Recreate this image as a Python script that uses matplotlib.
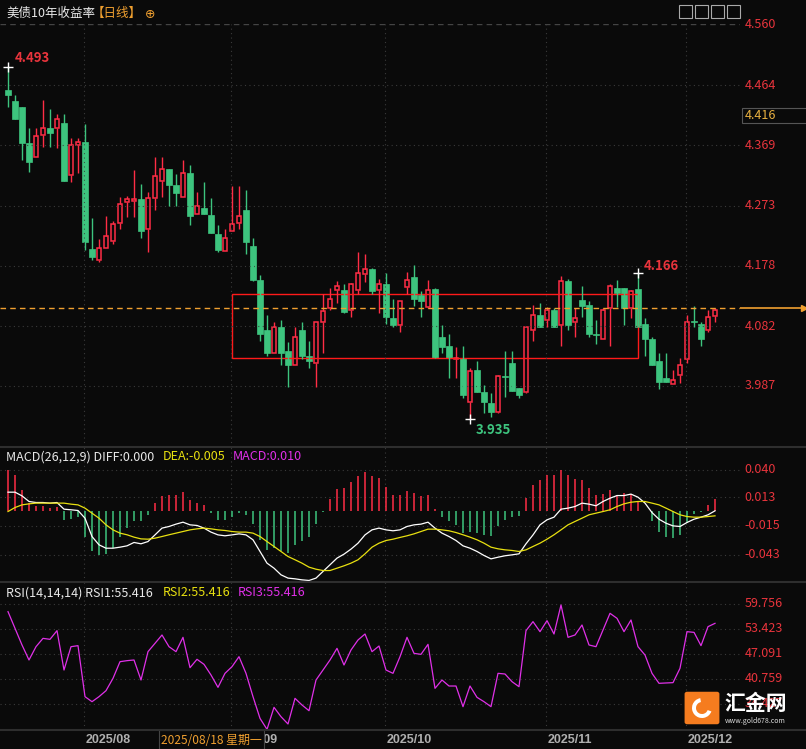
import matplotlib
matplotlib.use("Agg")
import matplotlib.pyplot as plt
from matplotlib.patches import Rectangle, FancyBboxPatch, Wedge
import numpy as np
import pandas as pd

plt.rcParams['font.family'] = ['Noto Sans CJK SC', 'DejaVu Sans']

# daily candles, 2025-07-17 .. 2025-12-05
dates = pd.bdate_range("2025-07-17", periods=102)

opens = [4.456, 4.440, 4.429, 4.372, 4.351, 4.385, 4.396, 4.396, 4.404, 4.321,
         4.370, 4.374, 4.204, 4.187, 4.206, 4.217, 4.246, 4.279, 4.280, 4.284,
         4.236, 4.285, 4.313, 4.332, 4.306, 4.287, 4.325, 4.260, 4.269, 4.258,
         4.228, 4.201, 4.233, 4.246, 4.266, 4.209, 4.155, 4.076, 4.040, 4.080,
         4.043, 4.020, 4.075, 4.034, 4.024, 4.088, 4.110, 4.140, 4.140, 4.107,
         4.140, 4.165, 4.173, 4.140, 4.148, 4.094, 4.084, 4.144, 4.160, 4.132,
         4.113, 4.141, 4.064, 4.050, 4.029, 4.031, 3.961, 4.013, 3.977, 3.960,
         3.945, 4.003, 4.023, 3.983, 3.977, 4.076, 4.100, 4.091, 4.108, 4.084,
         4.154, 4.089, 4.124, 4.116, 4.069, 4.061, 4.110, 4.143, 4.143, 4.110,
         4.141, 4.086, 4.061, 4.026, 3.999, 3.990, 4.005, 4.029, 4.090, 4.086,
         4.075, 4.098]
highs = [4.493, 4.449, 4.430, 4.396, 4.396, 4.441, 4.426, 4.419, 4.419, 4.380,
         4.380, 4.402, 4.253, 4.220, 4.257, 4.249, 4.287, 4.288, 4.329, 4.307,
         4.295, 4.350, 4.350, 4.332, 4.323, 4.345, 4.337, 4.295, 4.310, 4.285,
         4.242, 4.236, 4.304, 4.304, 4.298, 4.222, 4.163, 4.099, 4.088, 4.091,
         4.056, 4.081, 4.088, 4.059, 4.088, 4.133, 4.143, 4.154, 4.149, 4.151,
         4.200, 4.197, 4.174, 4.157, 4.167, 4.125, 4.122, 4.168, 4.179, 4.138,
         4.155, 4.143, 4.083, 4.069, 4.048, 4.050, 4.016, 4.027, 3.988, 3.975,
         4.005, 4.043, 4.043, 3.983, 4.080, 4.116, 4.119, 4.113, 4.111, 4.162,
         4.157, 4.111, 4.146, 4.121, 4.091, 4.111, 4.149, 4.155, 4.143, 4.140,
         4.166, 4.095, 4.064, 4.040, 4.040, 4.013, 4.031, 4.100, 4.114, 4.088,
         4.108, 4.111]
lows = [4.429, 4.410, 4.345, 4.326, 4.351, 4.367, 4.366, 4.364, 4.313, 4.310,
        4.325, 4.203, 4.187, 4.184, 4.206, 4.212, 4.236, 4.255, 4.255, 4.222,
        4.200, 4.266, 4.287, 4.272, 4.272, 4.287, 4.242, 4.260, 4.260, 4.230,
        4.200, 4.201, 4.233, 4.236, 4.197, 4.154, 4.058, 4.035, 4.039, 4.020,
        3.986, 4.020, 4.029, 4.016, 3.985, 4.040, 4.108, 4.119, 4.103, 4.097,
        4.133, 4.152, 4.133, 4.103, 4.086, 4.081, 4.073, 4.133, 4.114, 4.097,
        4.110, 4.032, 4.039, 3.999, 3.999, 3.967, 3.935, 3.977, 3.944, 3.937,
        3.944, 3.969, 3.979, 3.967, 3.975, 4.058, 4.080, 4.081, 4.080, 4.051,
        4.076, 4.065, 4.097, 4.064, 4.054, 4.061, 4.051, 4.113, 4.083, 4.095,
        4.080, 4.035, 4.020, 3.982, 3.993, 3.990, 3.991, 4.024, 4.081, 4.050,
        4.073, 4.088]
closes = [4.449, 4.411, 4.372, 4.342, 4.383, 4.396, 4.388, 4.410, 4.313, 4.369,
          4.374, 4.215, 4.192, 4.206, 4.225, 4.244, 4.276, 4.284, 4.284, 4.233,
          4.285, 4.320, 4.331, 4.306, 4.293, 4.325, 4.257, 4.272, 4.260, 4.230,
          4.203, 4.222, 4.244, 4.257, 4.216, 4.155, 4.069, 4.040, 4.080, 4.040,
          4.020, 4.064, 4.034, 4.026, 4.088, 4.106, 4.125, 4.146, 4.105, 4.148,
          4.167, 4.173, 4.137, 4.148, 4.097, 4.083, 4.121, 4.155, 4.125, 4.121,
          4.140, 4.032, 4.048, 4.032, 4.032, 3.972, 4.010, 3.977, 3.961, 3.945,
          4.002, 4.001, 3.979, 3.972, 4.080, 4.100, 4.080, 4.108, 4.080, 4.154,
          4.084, 4.094, 4.114, 4.070, 4.068, 4.108, 4.146, 4.135, 4.110, 4.137,
          4.080, 4.062, 4.020, 3.993, 3.993, 3.996, 4.020, 4.088, 4.088, 4.061,
          4.097, 4.108]

diff = [0.0179, 0.0179, 0.0143, 0.0088, 0.0078, 0.0078, 0.0072, 0.0078, 0.0013, 0.0007,
        0.0000, -0.0075, -0.0254, -0.0335, -0.0368, -0.0368, -0.0358, -0.0345, -0.0312, -0.0325,
        -0.0303, -0.0238, -0.0172, -0.0156, -0.0133, -0.0114, -0.0140, -0.0146, -0.0172, -0.0211,
        -0.0238, -0.0247, -0.0238, -0.0228, -0.0238, -0.0286, -0.0400, -0.0514, -0.0563, -0.0628,
        -0.0660, -0.0667, -0.0677, -0.0683, -0.0660, -0.0595, -0.0530, -0.0465, -0.0426, -0.0377,
        -0.0319, -0.0238, -0.0189, -0.0172, -0.0189, -0.0198, -0.0189, -0.0156, -0.0140, -0.0133,
        -0.0114, -0.0172, -0.0221, -0.0254, -0.0293, -0.0345, -0.0368, -0.0400, -0.0439, -0.0472,
        -0.0456, -0.0442, -0.0433, -0.0423, -0.0325, -0.0238, -0.0140, -0.0091, -0.0065, 0.0013,
        0.0023, 0.0039, 0.0072, 0.0062, 0.0046, 0.0088, 0.0120, 0.0146, 0.0146, 0.0160,
        0.0130, 0.0072, -0.0020, -0.0085, -0.0124, -0.0150, -0.0156, -0.0117, -0.0085, -0.0065,
        -0.0042, -0.0003]
dea = [-0.0010, 0.0029, 0.0055, 0.0065, 0.0072, 0.0072, 0.0072, 0.0072, 0.0072, 0.0062,
       0.0055, 0.0023, -0.0026, -0.0075, -0.0140, -0.0189, -0.0221, -0.0237, -0.0260, -0.0277,
       -0.0280, -0.0270, -0.0254, -0.0237, -0.0221, -0.0205, -0.0189, -0.0179, -0.0172, -0.0179,
       -0.0189, -0.0195, -0.0205, -0.0211, -0.0211, -0.0221, -0.0254, -0.0303, -0.0351, -0.0400,
       -0.0449, -0.0481, -0.0514, -0.0553, -0.0573, -0.0586, -0.0586, -0.0563, -0.0540, -0.0514,
       -0.0481, -0.0423, -0.0358, -0.0319, -0.0293, -0.0280, -0.0263, -0.0247, -0.0228, -0.0205,
       -0.0182, -0.0182, -0.0189, -0.0198, -0.0215, -0.0237, -0.0260, -0.0286, -0.0319, -0.0358,
       -0.0374, -0.0384, -0.0390, -0.0400, -0.0384, -0.0351, -0.0319, -0.0280, -0.0237, -0.0189,
       -0.0140, -0.0107, -0.0075, -0.0042, -0.0026, -0.0010, 0.0007, 0.0039, 0.0065, 0.0081,
       0.0088, 0.0088, 0.0072, 0.0055, 0.0023, -0.0010, -0.0042, -0.0059, -0.0065, -0.0065,
       -0.0059, -0.0052]
macd_hist = [0.0397, 0.0348, 0.0202, 0.0072, 0.0046, 0.0046, 0.0023, 0.0039, -0.0091, -0.0081,
             -0.0065, -0.0260, -0.0400, -0.0439, -0.0426, -0.0368, -0.0260, -0.0172, -0.0107, -0.0107,
             -0.0042, 0.0072, 0.0143, 0.0153, 0.0153, 0.0176, 0.0104, 0.0078, 0.0049, -0.0020,
             -0.0091, -0.0091, -0.0065, -0.0020, -0.0042, -0.0130, -0.0286, -0.0384, -0.0368, -0.0400,
             -0.0410, -0.0335, -0.0296, -0.0254, -0.0130, -0.0010, 0.0110, 0.0208, 0.0218, 0.0276,
             0.0339, 0.0374, 0.0339, 0.0316, 0.0228, 0.0153, 0.0153, 0.0192, 0.0169, 0.0143,
             0.0153, 0.0016, -0.0059, -0.0107, -0.0140, -0.0215, -0.0205, -0.0215, -0.0237, -0.0247,
             -0.0156, -0.0091, -0.0065, -0.0052, 0.0120, 0.0250, 0.0293, 0.0348, 0.0342, 0.0397,
             0.0348, 0.0309, 0.0293, 0.0218, 0.0153, 0.0160, 0.0202, 0.0153, 0.0169, 0.0160,
             0.0088, -0.0005, -0.0107, -0.0205, -0.0260, -0.0270, -0.0237, -0.0124, -0.0033, -0.0016,
             0.0055, 0.0114]
rsi = [57.74, 53.52, 49.30, 45.50, 48.87, 50.98, 50.73, 52.93, 42.96, 48.87,
       49.13, 36.21, 34.94, 36.21, 37.73, 40.85, 45.07, 45.33, 45.50, 40.43,
       47.61, 49.72, 51.83, 48.87, 47.61, 51.24, 43.55, 45.67, 44.40, 41.70,
       38.57, 42.12, 43.81, 46.34, 42.12, 36.21, 30.72, 27.93, 33.51, 31.14,
       29.29, 35.79, 34.10, 32.66, 40.43, 42.96, 45.50, 48.45, 44.23, 48.03,
       50.56, 52.08, 47.61, 49.04, 42.96, 42.12, 46.34, 51.24, 47.18, 46.93,
       49.46, 38.32, 40.43, 38.91, 38.91, 33.68, 38.91, 36.04, 34.94, 33.68,
       42.12, 41.95, 40.01, 38.74, 52.93, 55.21, 52.67, 55.46, 52.08, 59.43,
       51.24, 51.83, 54.36, 49.30, 48.87, 53.09, 57.32, 56.05, 52.67, 55.63,
       48.87, 46.76, 42.12, 39.59, 39.68, 39.76, 43.39, 52.67, 52.50, 49.13,
       53.94, 54.78]

price_ticks = [4.560, 4.464, 4.369, 4.273, 4.178, 4.082, 3.987]
macd_ticks = [0.040, 0.013, -0.015, -0.043]
rsi_ticks = [59.756, 53.423, 47.091, 40.759, 34.427]
box_start, box_end, box_top, box_bottom = 32, 90, 4.133, 4.032
last_line = 4.110
cross_price = 4.416

BG = "#0a0a0a"
RED = "#ff2d45"
GREEN = "#3dc47e"
GRID = "#3a3a3a"
LABEL_RED = "#e8343c"

W, H = 806, 749
fig = plt.figure(figsize=(W / 100, H / 100), dpi=100, facecolor=BG)


def px_axes(x0, y0, x1, y1):
    ax = fig.add_axes([x0 / W, 1 - y1 / H, (x1 - x0) / W, (y1 - y0) / H])
    ax.set_facecolor(BG)
    for s in ax.spines.values():
        s.set_visible(False)
    ax.set_xticks([])
    ax.set_yticks([])
    return ax


idx = np.arange(len(dates))
month_pos = [i for i in range(1, len(dates)) if dates[i].month != dates[i - 1].month]
xlim = (-8 / 7, 732 / 7)

ax1 = px_axes(0, 24, 740, 447)
ax2 = px_axes(0, 447, 740, 582)
ax3 = px_axes(0, 582, 740, 730)
for ax in (ax1, ax2, ax3):
    ax.set_xlim(*xlim)
    for m in month_pos:
        ax.axvline(m - 0.15, color=GRID, lw=0.8, ls=(0, (1, 3)))

# ---- main candle panel
ax1.set_ylim(3.890, 4.5615)
for t in price_ticks[1:]:
    ax1.axhline(t, color=GRID, lw=0.8, ls=(0, (1, 3)))
ax1.axhline(4.5615, color="#444444", lw=1, ls=(0, (4, 3)))

for i in idx:
    o, h, l, c = opens[i], highs[i], lows[i], closes[i]
    if c >= o:
        ax1.vlines(i, c, h, color=RED, lw=1)
        ax1.vlines(i, l, o, color=RED, lw=1)
        ax1.add_patch(Rectangle((i - 0.33, o), 0.66, max(c - o, 0.0008),
                                facecolor=BG, edgecolor=RED, lw=1.1))
    else:
        ax1.vlines(i, l, h, color=GREEN, lw=1)
        ax1.add_patch(Rectangle((i - 0.36, c), 0.72, max(o - c, 0.0008),
                                facecolor=GREEN, edgecolor=GREEN, lw=0.5))

ax1.add_patch(Rectangle((box_start, box_bottom), box_end - box_start, box_top - box_bottom,
                        fill=False, edgecolor="#ff1a1a", lw=1))
ax1.axhline(last_line, color="#f0a030", lw=1, ls=(0, (4, 3)))

i_hi = int(np.argmax(highs))
i_lo = int(np.argmin(lows))
i_hi2 = 90
for i, v in [(i_hi, highs[i_hi]), (i_lo, lows[i_lo]), (i_hi2, highs[i_hi2])]:
    ax1.plot(i, v, marker="+", color="white", ms=7, mew=1)
ax1.annotate(f"{highs[i_hi]:.3f}", (i_hi, highs[i_hi]), xytext=(5, 4), textcoords="offset points",
             color=LABEL_RED, fontsize=9.5, fontweight="bold")
ax1.annotate(f"{lows[i_lo]:.3f}", (i_lo, lows[i_lo]), xytext=(4, -11), textcoords="offset points",
             color=GREEN, fontsize=9.5, fontweight="bold")
ax1.annotate(f"{highs[i_hi2]:.3f}", (i_hi2, highs[i_hi2]), xytext=(4, 2), textcoords="offset points",
             color=LABEL_RED, fontsize=9.5, fontweight="bold")

ay1 = px_axes(740, 24, 806, 447)
ay1.set_ylim(ax1.get_ylim())
ay1.set_xlim(0, 1)
for t in price_ticks:
    ay1.text(0.07, t, f"{t:.3f}", color=LABEL_RED, fontsize=9, va="center")
ay1.add_patch(Rectangle((0.03, cross_price - 0.012), 1.2, 0.024, facecolor=BG,
                        edgecolor="#555555", lw=0.8))
ay1.text(0.07, cross_price, f"{cross_price:.3f}", color="#e8b040", fontsize=9, va="center")
ay1.axhline(last_line, color="#f0a030", lw=1.2)
ay1.plot(0.97, last_line, marker=">", color="#f0a030", ms=5)

# ---- MACD panel
ax2.set_ylim(-0.0698, 0.0620)
for t in macd_ticks:
    ax2.axhline(t, color=GRID, lw=0.8, ls=(0, (1, 3)))
hist_colors = [RED if v >= 0 else GREEN for v in macd_hist]
ax2.vlines(idx, 0, macd_hist, colors=hist_colors, lw=1.1)
ax2.plot(idx, diff, color="white", lw=0.9)
ax2.plot(idx, dea, color="#e8e010", lw=0.9)

ay2 = px_axes(740, 447, 806, 582)
ay2.set_ylim(ax2.get_ylim())
ay2.set_xlim(0, 1)
for t in macd_ticks:
    ay2.text(0.07, t, f"{t:.3f}", color=LABEL_RED, fontsize=9, va="center")

# ---- RSI panel
ax3.set_ylim(27.77, 65.25)
for t in rsi_ticks:
    ax3.axhline(t, color=GRID, lw=0.8, ls=(0, (1, 3)))
ax3.plot(idx, rsi, color="#e030e8", lw=0.9)

ay3 = px_axes(740, 582, 806, 730)
ay3.set_ylim(ax3.get_ylim())
ay3.set_xlim(0, 1)
for t in rsi_ticks:
    ay3.text(0.07, t, f"{t:.3f}", color=LABEL_RED, fontsize=9, va="center")

# panel separators
for y in (447, 582, 730):
    fig.add_artist(plt.Line2D([0, 1], [1 - y / H, 1 - y / H], color="#2e2e2e", lw=1.5))

# ---- date axis (crosshair date box covers part of the 2025/09 label)
ax4 = px_axes(0, 730, 740, 749)
ax4.set_xlim(*xlim)
ax4.set_ylim(0, 1)
for m in month_pos:
    ax4.text(m + 0.1, 0.45, dates[m].strftime("%Y/%m"), color="#b0b0b0", fontsize=9,
             fontweight="bold", va="center", family=["Liberation Sans", "DejaVu Sans"])
ax4.add_patch(Rectangle((21.6, 0), 15.0, 1.0, facecolor=BG, edgecolor="#444444", lw=0.8,
                        zorder=5))
ax4.text(21.9, 0.45, "2025/08/18 星期一", color="#f0a030", fontsize=8.6, va="center",
         zorder=6)

# ---- headers
fig.text(6 / W, 1 - 13 / H, "美债10年收益率", color="#e8e8e8", fontsize=9, va="center")
fig.text(92 / W, 1 - 13 / H, "【日线】", color="#f0a030", fontsize=9, va="center")
fig.text(145 / W, 1 - 14 / H, "⊕", color="#f0a030", fontsize=9, va="center",
         family=["DejaVu Sans"])


def header(y, parts):
    x = 6
    for txt, col, w in parts:
        fig.text(x / W, 1 - y / H, txt, color=col, fontsize=9, va="center")
        x += w


header(457, [("MACD(26,12,9) DIFF:0.000", "#e8e8e8", 157),
             ("DEA:-0.005", "#e8e010", 70), ("MACD:0.010", "#e030e8", 80)])
header(593, [("RSI(14,14,14) RSI1:55.416", "#e8e8e8", 157),
             ("RSI2:55.416", "#e8e010", 75), ("RSI3:55.416", "#e030e8", 80)])

# toolbar icons
for k in range(4):
    x0 = 679 + k * 16
    fig.add_artist(Rectangle((x0 / W, 1 - 18 / H), 13 / W, 13 / H, fill=False,
                             edgecolor="#aaaaaa", lw=0.8, transform=fig.transFigure))

# logo
fig.add_artist(FancyBboxPatch((687 / W, 1 - 722 / H), 30 / W, 28 / H,
                              boxstyle="round,pad=0.003", facecolor="#f57c1f",
                              edgecolor="none", transform=fig.transFigure))
fig.add_artist(Wedge((702, 749 - 708), 10, 100, 340, width=4, facecolor="white",
                     transform=None))
fig.text(724 / W, 1 - 704 / H, "汇金网", color="white", fontsize=15, fontweight="bold",
         va="center")
fig.text(725 / W, 1 - 721 / H, "www.gold678.com", color="#dddddd", fontsize=5, va="center")

fig.savefig("out.png", dpi=100, facecolor=BG)
